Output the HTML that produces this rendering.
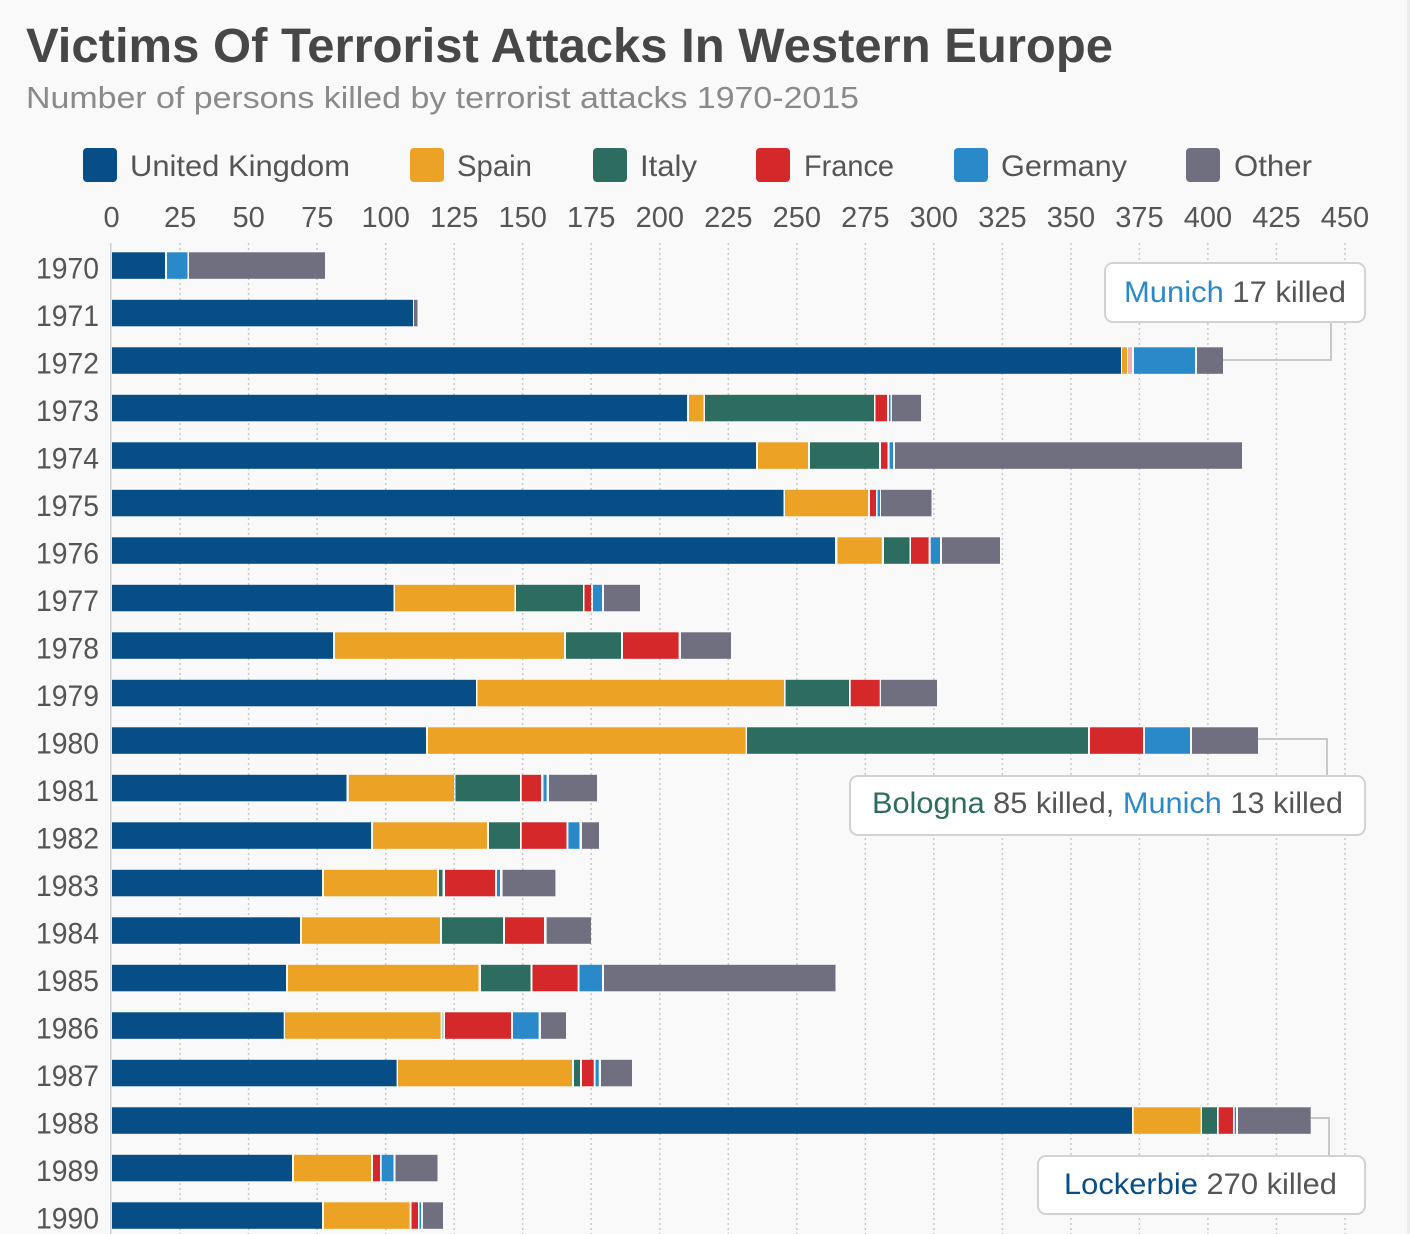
<!DOCTYPE html>
<html><head><meta charset="utf-8"><style>
html,body{margin:0;padding:0;background:#f9f9f9;}
svg{display:block;}
text{font-family:"Liberation Sans",Arial,sans-serif;}
.u{fill:#074d86}.s{fill:#eca225}.i{fill:#2d6d5f}.f{fill:#d5282b}.g{fill:#2a89c9}.o{fill:#706f7f}
.yr{font-size:30px;fill:#555;text-anchor:end}
.tk{font-size:29px;fill:#555;text-anchor:middle}
.lg{font-size:30px;fill:#555}
.an{font-size:30px;fill:#555}
.grid line{stroke:#c9c9c9;stroke-width:1.5;stroke-dasharray:2 3}
</style></head><body>
<svg width="1410" height="1234" viewBox="0 0 1410 1234" xmlns="http://www.w3.org/2000/svg">
<rect x="0" y="0" width="1410" height="1234" fill="#f9f9f9"/>
<rect x="1407" y="0" width="3" height="1234" fill="#ececec"/>
<text x="26" y="62" font-size="48" font-weight="bold" fill="#474747" textLength="1087" lengthAdjust="spacingAndGlyphs">Victims Of Terrorist Attacks In Western Europe</text>
<text x="26" y="108" font-size="31" fill="#8a8a8a" textLength="833" lengthAdjust="spacingAndGlyphs">Number of persons killed by terrorist attacks 1970-2015</text>

<rect class="u" x="83" y="148" width="34" height="34" rx="4"/>
<text class="lg" x="130" y="176" textLength="220" lengthAdjust="spacingAndGlyphs">United Kingdom</text>
<rect class="s" x="410" y="148" width="34" height="34" rx="4"/>
<text class="lg" x="457" y="176" textLength="75" lengthAdjust="spacingAndGlyphs">Spain</text>
<rect class="i" x="593" y="148" width="34" height="34" rx="4"/>
<text class="lg" x="640" y="176" textLength="57" lengthAdjust="spacingAndGlyphs">Italy</text>
<rect class="f" x="756" y="148" width="34" height="34" rx="4"/>
<text class="lg" x="804" y="176" textLength="90" lengthAdjust="spacingAndGlyphs">France</text>
<rect class="g" x="954" y="148" width="34" height="34" rx="4"/>
<text class="lg" x="1001" y="176" textLength="126" lengthAdjust="spacingAndGlyphs">Germany</text>
<rect class="o" x="1186" y="148" width="34" height="34" rx="4"/>
<text class="lg" x="1234" y="176" textLength="78" lengthAdjust="spacingAndGlyphs">Other</text>

<g>
<text class="tk" x="111.6" y="227">0</text>
<text class="tk" x="180.1" y="227">25</text>
<text class="tk" x="248.6" y="227">50</text>
<text class="tk" x="317.2" y="227">75</text>
<text class="tk" x="385.7" y="227">100</text>
<text class="tk" x="454.2" y="227">125</text>
<text class="tk" x="522.7" y="227">150</text>
<text class="tk" x="591.2" y="227">175</text>
<text class="tk" x="659.8" y="227">200</text>
<text class="tk" x="728.3" y="227">225</text>
<text class="tk" x="796.8" y="227">250</text>
<text class="tk" x="865.3" y="227">275</text>
<text class="tk" x="933.8" y="227">300</text>
<text class="tk" x="1002.4" y="227">325</text>
<text class="tk" x="1070.9" y="227">350</text>
<text class="tk" x="1139.4" y="227">375</text>
<text class="tk" x="1207.9" y="227">400</text>
<text class="tk" x="1276.4" y="227">425</text>
<text class="tk" x="1345" y="227">450</text>
</g>

<g class="grid">
<line x1="180.1" y1="243" x2="180.1" y2="1234"/>
<line x1="248.6" y1="243" x2="248.6" y2="1234"/>
<line x1="317.2" y1="243" x2="317.2" y2="1234"/>
<line x1="385.7" y1="243" x2="385.7" y2="1234"/>
<line x1="454.2" y1="243" x2="454.2" y2="1234"/>
<line x1="522.7" y1="243" x2="522.7" y2="1234"/>
<line x1="591.2" y1="243" x2="591.2" y2="1234"/>
<line x1="659.8" y1="243" x2="659.8" y2="1234"/>
<line x1="728.3" y1="243" x2="728.3" y2="1234"/>
<line x1="796.8" y1="243" x2="796.8" y2="1234"/>
<line x1="865.3" y1="243" x2="865.3" y2="1234"/>
<line x1="933.8" y1="243" x2="933.8" y2="1234"/>
<line x1="1002.4" y1="243" x2="1002.4" y2="1234"/>
<line x1="1070.9" y1="243" x2="1070.9" y2="1234"/>
<line x1="1139.4" y1="243" x2="1139.4" y2="1234"/>
<line x1="1207.9" y1="243" x2="1207.9" y2="1234"/>
<line x1="1276.4" y1="243" x2="1276.4" y2="1234"/>
<line x1="1345" y1="243" x2="1345" y2="1234"/>
</g>
<line x1="110.8" y1="243" x2="110.8" y2="1234" stroke="#cfcfcf" stroke-width="1.5"/>

<g transform="translate(0,252.3)"><text class="yr" x="99" y="26" textLength="63" lengthAdjust="spacingAndGlyphs">1970</text>
<rect class="u" x="112" width="53" height="26.5"/><rect class="g" x="167" width="20.5" height="26.5"/><rect class="o" x="189" width="136" height="26.5"/></g>
<g transform="translate(0,299.8)"><text class="yr" x="99" y="26" textLength="63" lengthAdjust="spacingAndGlyphs">1971</text>
<rect class="u" x="112" width="301" height="26.5"/><rect class="o" x="414" width="3.5" height="26.5"/></g>
<g transform="translate(0,347.3)"><text class="yr" x="99" y="26" textLength="63" lengthAdjust="spacingAndGlyphs">1972</text>
<rect class="u" x="112" width="1009" height="26.5"/><rect class="s" x="1122" width="5" height="26.5"/><rect class="f" x="1128" width="4" height="26.5" opacity="0.35"/><rect class="g" x="1134" width="61" height="26.5"/><rect class="o" x="1197" width="26" height="26.5"/></g>
<g transform="translate(0,394.8)"><text class="yr" x="99" y="26" textLength="63" lengthAdjust="spacingAndGlyphs">1973</text>
<rect class="u" x="112" width="575" height="26.5"/><rect class="s" x="689" width="14.5" height="26.5"/><rect class="i" x="705" width="169" height="26.5"/><rect class="f" x="875.5" width="11.5" height="26.5"/><rect class="g" x="889" width="1.5" height="26.5"/><rect class="o" x="892" width="29" height="26.5"/></g>
<g transform="translate(0,442.3)"><text class="yr" x="99" y="26" textLength="63" lengthAdjust="spacingAndGlyphs">1974</text>
<rect class="u" x="112" width="644" height="26.5"/><rect class="s" x="758" width="50" height="26.5"/><rect class="i" x="810" width="69" height="26.5"/><rect class="f" x="881" width="6.5" height="26.5"/><rect class="g" x="889.6" width="3.4" height="26.5"/><rect class="o" x="895" width="347" height="26.5"/></g>
<g transform="translate(0,489.8)"><text class="yr" x="99" y="26" textLength="63" lengthAdjust="spacingAndGlyphs">1975</text>
<rect class="u" x="112" width="671.5" height="26.5"/><rect class="s" x="785" width="83" height="26.5"/><rect class="f" x="870" width="6" height="26.5"/><rect class="g" x="877.6" width="2.4" height="26.5"/><rect class="o" x="881" width="50.5" height="26.5"/></g>
<g transform="translate(0,537.3)"><text class="yr" x="99" y="26" textLength="63" lengthAdjust="spacingAndGlyphs">1976</text>
<rect class="u" x="112" width="723" height="26.5"/><rect class="s" x="837.4" width="44.4" height="26.5"/><rect class="i" x="884" width="25.5" height="26.5"/><rect class="f" x="911" width="17.6" height="26.5"/><rect class="g" x="930.7" width="9.3" height="26.5"/><rect class="o" x="942" width="58" height="26.5"/></g>
<g transform="translate(0,584.8)"><text class="yr" x="99" y="26" textLength="63" lengthAdjust="spacingAndGlyphs">1977</text>
<rect class="u" x="112" width="281.5" height="26.5"/><rect class="s" x="395" width="119.5" height="26.5"/><rect class="i" x="516" width="67" height="26.5"/><rect class="f" x="584.5" width="6.5" height="26.5"/><rect class="g" x="593" width="9" height="26.5"/><rect class="o" x="604" width="36" height="26.5"/></g>
<g transform="translate(0,632.3)"><text class="yr" x="99" y="26" textLength="63" lengthAdjust="spacingAndGlyphs">1978</text>
<rect class="u" x="112" width="221" height="26.5"/><rect class="s" x="335" width="229" height="26.5"/><rect class="i" x="566" width="55" height="26.5"/><rect class="f" x="623" width="55.6" height="26.5"/><rect class="o" x="681" width="50" height="26.5"/></g>
<g transform="translate(0,679.8)"><text class="yr" x="99" y="26" textLength="63" lengthAdjust="spacingAndGlyphs">1979</text>
<rect class="u" x="112" width="364" height="26.5"/><rect class="s" x="477.5" width="306.5" height="26.5"/><rect class="i" x="785.6" width="63.4" height="26.5"/><rect class="f" x="850.7" width="29" height="26.5"/><rect class="o" x="881" width="56" height="26.5"/></g>
<g transform="translate(0,727.3)"><text class="yr" x="99" y="26" textLength="63" lengthAdjust="spacingAndGlyphs">1980</text>
<rect class="u" x="112" width="314" height="26.5"/><rect class="s" x="428" width="317.6" height="26.5"/><rect class="i" x="747" width="341" height="26.5"/><rect class="f" x="1090" width="53" height="26.5"/><rect class="g" x="1145" width="45" height="26.5"/><rect class="o" x="1192" width="66" height="26.5"/></g>
<g transform="translate(0,774.8)"><text class="yr" x="99" y="26" textLength="63" lengthAdjust="spacingAndGlyphs">1981</text>
<rect class="u" x="112" width="234.5" height="26.5"/><rect class="s" x="348.8" width="105.2" height="26.5"/><rect class="i" x="455.5" width="64.5" height="26.5"/><rect class="f" x="521.7" width="19.3" height="26.5"/><rect class="g" x="543.5" width="3.1" height="26.5"/><rect class="o" x="549" width="48" height="26.5"/></g>
<g transform="translate(0,822.3)"><text class="yr" x="99" y="26" textLength="63" lengthAdjust="spacingAndGlyphs">1982</text>
<rect class="u" x="112" width="259" height="26.5"/><rect class="s" x="373" width="114" height="26.5"/><rect class="i" x="489" width="31" height="26.5"/><rect class="f" x="521.7" width="44.8" height="26.5"/><rect class="g" x="568.4" width="11.1" height="26.5"/><rect class="o" x="582" width="17" height="26.5"/></g>
<g transform="translate(0,869.8)"><text class="yr" x="99" y="26" textLength="63" lengthAdjust="spacingAndGlyphs">1983</text>
<rect class="u" x="112" width="210" height="26.5"/><rect class="s" x="324" width="113" height="26.5"/><rect class="i" x="439" width="3.5" height="26.5"/><rect class="f" x="445" width="50" height="26.5"/><rect class="g" x="497" width="3" height="26.5"/><rect class="o" x="502.6" width="52.8" height="26.5"/></g>
<g transform="translate(0,917.3)"><text class="yr" x="99" y="26" textLength="63" lengthAdjust="spacingAndGlyphs">1984</text>
<rect class="u" x="112" width="188" height="26.5"/><rect class="s" x="302" width="138" height="26.5"/><rect class="i" x="442" width="61" height="26.5"/><rect class="f" x="505" width="39" height="26.5"/><rect class="o" x="546.6" width="44.4" height="26.5"/></g>
<g transform="translate(0,964.8)"><text class="yr" x="99" y="26" textLength="63" lengthAdjust="spacingAndGlyphs">1985</text>
<rect class="u" x="112" width="174" height="26.5"/><rect class="s" x="288" width="190.5" height="26.5"/><rect class="i" x="481" width="49.5" height="26.5"/><rect class="f" x="532.5" width="45.1" height="26.5"/><rect class="g" x="579.5" width="22.5" height="26.5"/><rect class="o" x="604" width="231.5" height="26.5"/></g>
<g transform="translate(0,1012.3)"><text class="yr" x="99" y="26" textLength="63" lengthAdjust="spacingAndGlyphs">1986</text>
<rect class="u" x="112" width="171.7" height="26.5"/><rect class="s" x="285" width="155.6" height="26.5"/><rect class="i" x="442" width="1.6" height="26.5" opacity="0.3"/><rect class="f" x="445" width="66" height="26.5"/><rect class="g" x="513" width="25.6" height="26.5"/><rect class="o" x="541" width="25" height="26.5"/></g>
<g transform="translate(0,1059.8)"><text class="yr" x="99" y="26" textLength="63" lengthAdjust="spacingAndGlyphs">1987</text>
<rect class="u" x="112" width="284.6" height="26.5"/><rect class="s" x="398" width="174" height="26.5"/><rect class="i" x="574" width="6" height="26.5"/><rect class="f" x="582" width="11.7" height="26.5"/><rect class="g" x="595.6" width="3.1" height="26.5"/><rect class="o" x="601" width="31" height="26.5"/></g>
<g transform="translate(0,1107.3)"><text class="yr" x="99" y="26" textLength="63" lengthAdjust="spacingAndGlyphs">1988</text>
<rect class="u" x="112" width="1020" height="26.5"/><rect class="s" x="1133.7" width="67" height="26.5"/><rect class="i" x="1202" width="15" height="26.5"/><rect class="f" x="1218.7" width="14.3" height="26.5"/><rect class="g" x="1234.7" width="1.3" height="26.5"/><rect class="o" x="1238" width="72.7" height="26.5"/></g>
<g transform="translate(0,1154.8)"><text class="yr" x="99" y="26" textLength="63" lengthAdjust="spacingAndGlyphs">1989</text>
<rect class="u" x="112" width="180" height="26.5"/><rect class="s" x="294" width="77" height="26.5"/><rect class="f" x="373" width="7" height="26.5"/><rect class="g" x="381.7" width="11.8" height="26.5"/><rect class="o" x="395.5" width="42" height="26.5"/></g>
<g transform="translate(0,1202.3)"><text class="yr" x="99" y="26" textLength="63" lengthAdjust="spacingAndGlyphs">1990</text>
<rect class="u" x="112" width="210" height="26.5"/><rect class="s" x="324" width="85.6" height="26.5"/><rect class="f" x="411.5" width="6.5" height="26.5"/><rect class="g" x="419.5" width="1.5" height="26.5"/><rect class="o" x="423" width="20" height="26.5"/></g>

<polyline points="1223,360 1331,360 1331,322" fill="none" stroke="#c8c8c8" stroke-width="2"/>
<rect x="1105" y="263" width="260" height="59" rx="8" fill="#fff" stroke="#d2d2d2" stroke-width="2"/>
<text class="an" x="1124" y="302" textLength="222" lengthAdjust="spacingAndGlyphs"><tspan fill="#2a89c9">Munich</tspan> 17 killed</text>

<polyline points="1258,739 1327,739 1327,776" fill="none" stroke="#c8c8c8" stroke-width="2"/>
<rect x="850" y="776" width="515" height="59" rx="8" fill="#fff" stroke="#d2d2d2" stroke-width="2"/>
<text class="an" x="872" y="813" textLength="471" lengthAdjust="spacingAndGlyphs"><tspan fill="#2d6d5f">Bologna</tspan> 85 killed, <tspan fill="#2a89c9">Munich</tspan> 13 killed</text>

<polyline points="1311,1118 1329,1118 1329,1156" fill="none" stroke="#c8c8c8" stroke-width="2"/>
<rect x="1038" y="1156" width="327" height="58" rx="8" fill="#fff" stroke="#d2d2d2" stroke-width="2"/>
<text class="an" x="1064" y="1194" textLength="273" lengthAdjust="spacingAndGlyphs"><tspan fill="#074d86">Lockerbie</tspan> 270 killed</text>
</svg>
</body></html>
